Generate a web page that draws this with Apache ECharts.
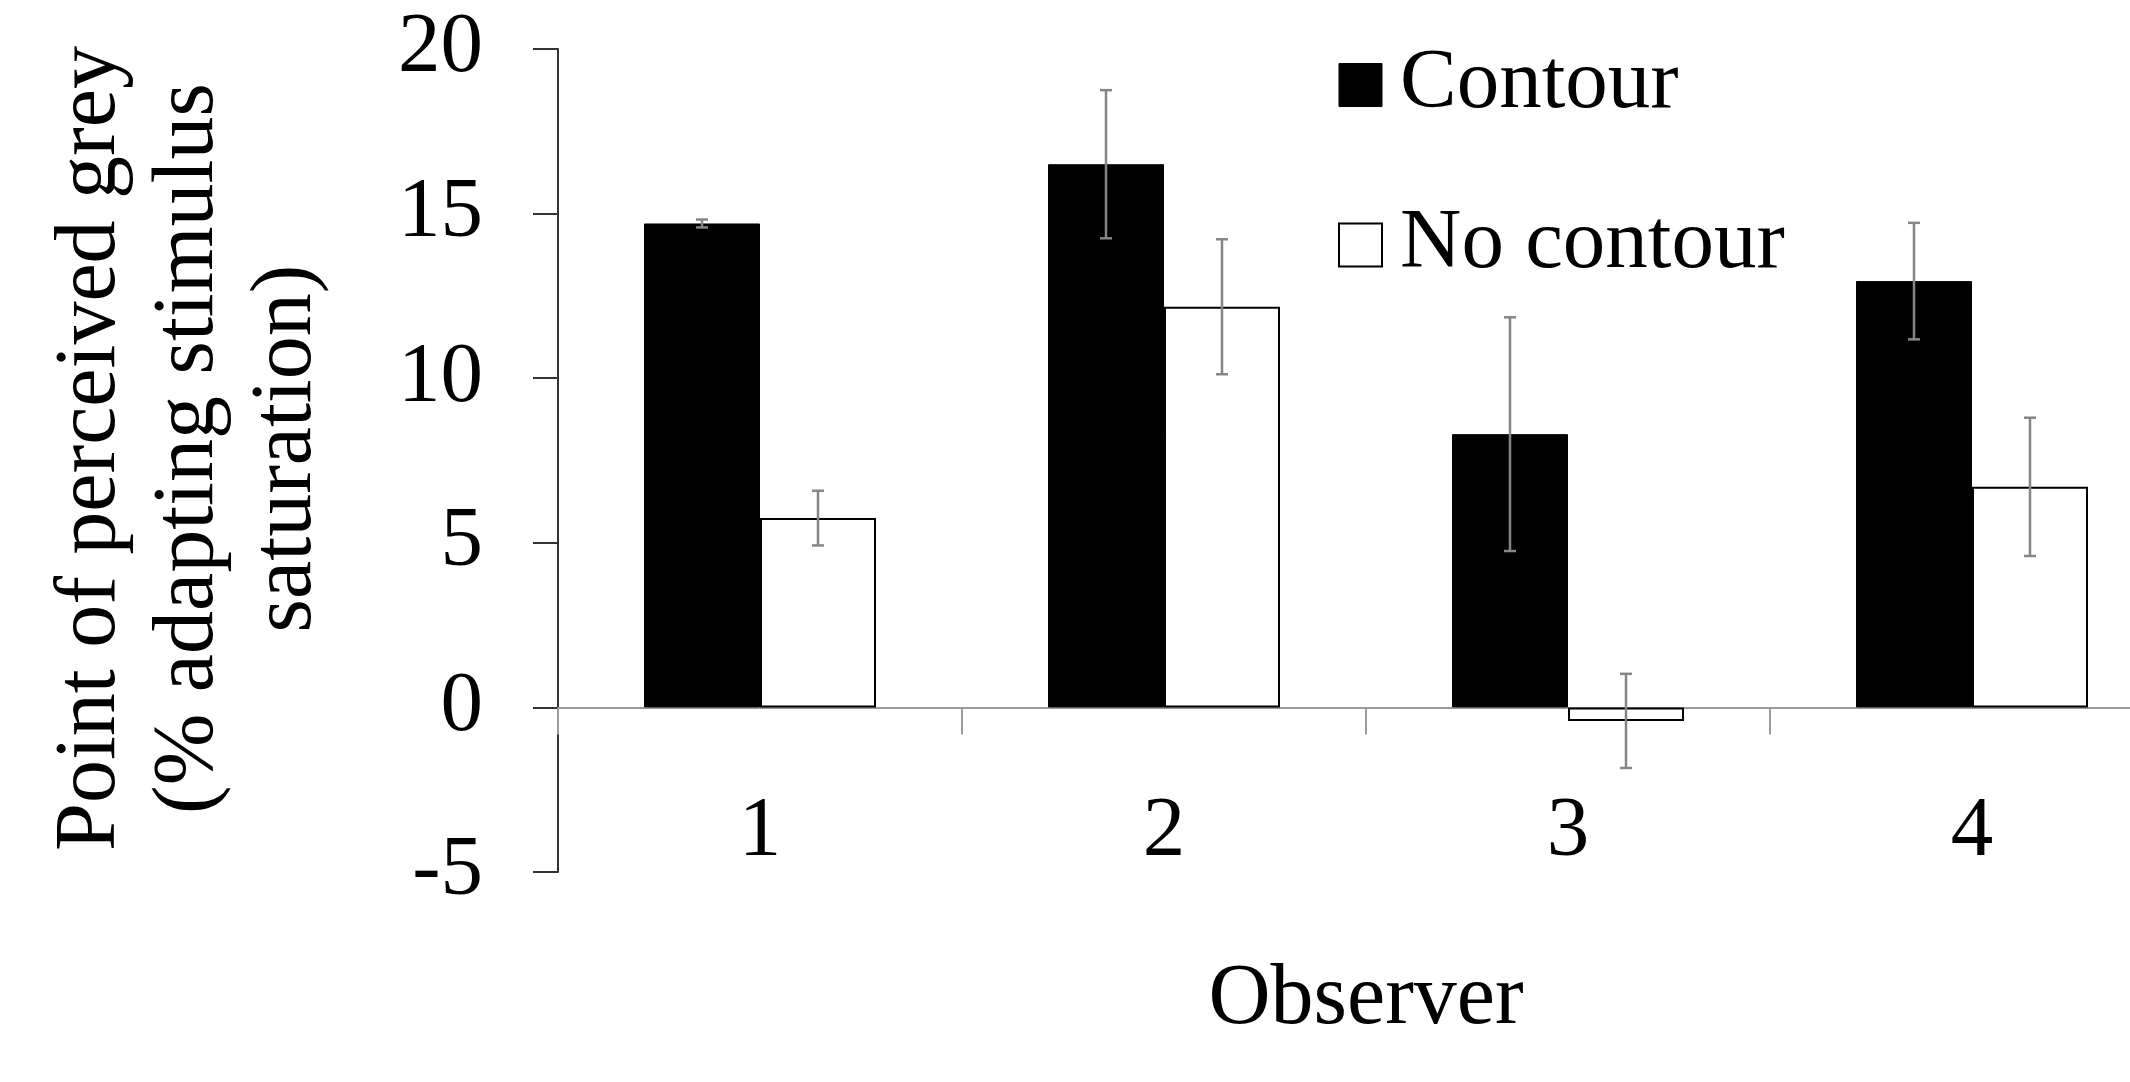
<!DOCTYPE html>
<html>
<head>
<meta charset="utf-8">
<script src="https://cdn.jsdelivr.net/npm/echarts@6/dist/echarts.min.js"></script>
<style>
html,body{margin:0;padding:0;background:#fff;}
#chart{width:2130px;height:1082px;}
</style>
</head>
<body>
<div id="chart"></div>
<script>
// ---- data ----
const observers = ['1', '2', '3', '4'];
const contourValues = [14.70, 16.50, 8.30, 12.95];
const contourErrors = [0.12, 2.25, 3.55, 1.77];
const noContourValues = [5.75, 12.17, -0.41, 6.70];
const noContourErrors = [0.83, 2.05, 1.43, 2.10];
const seriesNames = ['Contour', 'No contour'];
const yMin = -5, yMax = 20, yInterval = 5;

// ---- style ----
const FONT = 'Liberation Serif, Times New Roman, serif';
const BAR_WIDTH = 116;
const ERR_COLOR = '#868686';
const CAP_HALF = 6;

function errorSeries(values, errors, side) {
  return {
    type: 'custom',
    z: 10,
    silent: true,
    data: values.map((v, i) => [i, v, errors[i]]),
    renderItem: function (params, api) {
      const i = api.value(0), v = api.value(1), e = api.value(2);
      const top = api.coord([i, v + e]);
      const bot = api.coord([i, v - e]);
      const x = top[0] + side * BAR_WIDTH / 2;
      const style = { stroke: ERR_COLOR, lineWidth: 2.5 };
      return {
        type: 'group',
        children: [
          { type: 'line', shape: { x1: x, y1: top[1], x2: x, y2: bot[1] }, style: style },
          { type: 'line', shape: { x1: x - CAP_HALF, y1: top[1], x2: x + CAP_HALF, y2: top[1] }, style: style },
          { type: 'line', shape: { x1: x - CAP_HALF, y1: bot[1], x2: x + CAP_HALF, y2: bot[1] }, style: style }
        ]
      };
    }
  };
}

const chart = echarts.init(document.getElementById('chart'), null, { renderer: 'canvas' });
chart.setOption({
  animation: false,
  backgroundColor: '#fff',
  textStyle: { fontFamily: FONT, color: '#000' },
  grid: { left: 558, top: 49, width: 1616, height: 823, containLabel: false, outerBoundsMode: 'none' },
  legend: {
    orient: 'vertical',
    left: 1333,
    top: 37,
    itemWidth: 43,
    itemHeight: 43,
    itemGap: 74,
    selectedMode: false,
    textStyle: { fontFamily: FONT, fontSize: 85, color: '#000', lineHeight: 86, padding: [0, 0, 0, 13] },
    data: [
      { name: seriesNames[0], icon: 'rect', itemStyle: { color: '#000', borderColor: '#000', borderWidth: 1 } },
      { name: seriesNames[1], icon: 'rect', itemStyle: { color: '#fff', borderColor: '#000', borderWidth: 2 } }
    ]
  },
  xAxis: {
    type: 'category',
    data: observers,
    name: 'Observer',
    nameLocation: 'middle',
    nameGap: 85,
    nameTextStyle: { fontFamily: FONT, fontSize: 86, color: '#000' },
    axisLine: { show: true, onZero: true, lineStyle: { color: '#9a9a9a', width: 2 } },
    axisTick: { show: true, length: 27, alignWithLabel: false, lineStyle: { color: '#9a9a9a', width: 2 } },
    axisLabel: { fontFamily: FONT, fontSize: 85, color: '#000', margin: -82 },
    splitLine: { show: false }
  },
  yAxis: {
    type: 'value',
    min: yMin,
    max: yMax,
    interval: yInterval,
    name: 'Point of perceived grey\n(% adapting stimulus\nsaturation)',
    nameLocation: 'middle',
    nameGap: 222,
    nameTextStyle: { fontFamily: FONT, fontSize: 86, color: '#000', lineHeight: 98, align: 'center', padding: [0, 0, 0, 24] },
    axisLine: { show: true, lineStyle: { color: '#333', width: 2 } },
    axisTick: { show: true, length: 25, lineStyle: { color: '#333', width: 2 } },
    axisLabel: { fontFamily: FONT, fontSize: 85, color: '#000', margin: 75 },
    splitLine: { show: false }
  },
  series: [
    {
      name: seriesNames[0],
      type: 'bar',
      data: contourValues,
      barWidth: BAR_WIDTH,
      barGap: '0%',
      itemStyle: { color: '#000', borderColor: '#000', borderWidth: 1 }
    },
    {
      name: seriesNames[1],
      type: 'bar',
      data: noContourValues,
      barWidth: BAR_WIDTH,
      barGap: '0%',
      itemStyle: { color: '#fff', borderColor: '#000', borderWidth: 2 }
    },
    errorSeries(contourValues, contourErrors, -1),
    errorSeries(noContourValues, noContourErrors, 1)
  ]
});
</script>
</body>
</html>
